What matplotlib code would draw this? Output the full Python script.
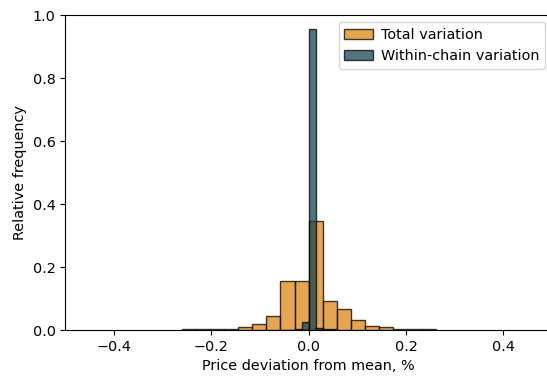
import numpy as np
import matplotlib.pyplot as plt

# histogram bins and relative frequencies
total_edges = np.linspace(-0.261, 0.261, 19)
total_freq = [0.002, 0.002, 0.003, 0.004, 0.0085, 0.018, 0.045, 0.157, 0.157,
              0.347, 0.091, 0.068, 0.032, 0.014, 0.0085, 0.004, 0.002, 0.002]

within_edges = np.linspace(-0.0435, 0.058, 8)
within_freq = [0.001, 0.003, 0.025, 0.955, 0.006, 0.003, 0.002]

labels = ['Total variation', 'Within-chain variation']
colors = ['#DE8816', '#174552']

plt.rcParams['font.size'] = 10.4

fig = plt.figure(figsize=(5.47, 3.76), dpi=100)
# axes run slightly past the right edge, like the cropped original
ax = fig.add_axes([0.1194, 0.1223, 0.8898, 0.8378])

for edges, freq, lab, col in zip([total_edges, within_edges],
                                 [total_freq, within_freq], labels, colors):
    centers = (edges[:-1] + edges[1:]) / 2
    ax.hist(centers, bins=edges, weights=freq, color=col, alpha=0.75,
            edgecolor='black', linewidth=1, label=lab)

ax.set_xlim(-0.5, 0.5)
ax.set_ylim(0, 1.0)
ax.set_xticks([-0.4, -0.2, 0.0, 0.2, 0.4])
ax.set_yticks([0.0, 0.2, 0.4, 0.6, 0.8, 1.0])
ax.set_xlabel('Price deviation from mean, %')
ax.set_ylabel('Relative frequency')
ax.legend(loc='upper right', handletextpad=0.5)

fig.savefig('out.png', dpi=100)
